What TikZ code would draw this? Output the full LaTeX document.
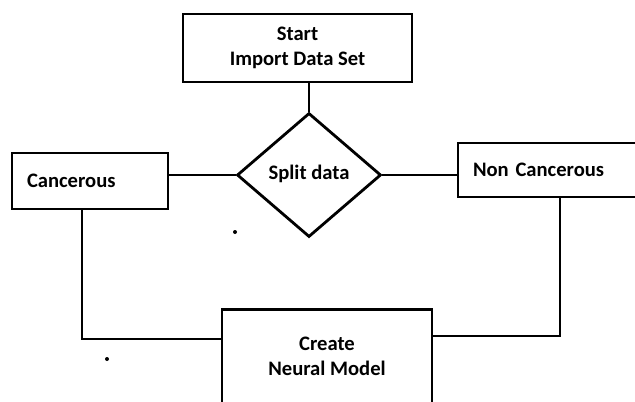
\documentclass[tikz,border=0pt]{standalone}
\usepackage{fontspec}
\setmainfont{Carlito}
\usetikzlibrary{shapes.geometric}
\tikzset{
  flow/.style={draw, line width=1.4pt, font=\bfseries\fontsize{10.3}{12.5}\selectfont},
  procbox/.style={flow, rectangle, align=center},
  sidebox/.style={flow, rectangle, align=left, inner xsep=7.5pt},
  decide/.style={flow, diamond, aspect=1.16, inner sep=0pt}
}
\begin{document}
\begin{tikzpicture}[x=0.5pt, y=-0.5pt, line width=1.4pt]
\useasboundingbox (0,0) rectangle (635,401);
\clip (0,0) rectangle (635,401);
\node[procbox, minimum width=114.5pt, minimum height=34pt] (start) at (297.5,48) {Start\\Import Data Set};
\node[decide, minimum width=72pt, minimum height=62pt] (split) at (309,175) {\raisebox{3pt}{Split data}};
\node[sidebox, text width=63pt, minimum height=28pt] (cancer) at (90,181) {Cancerous};
\node[sidebox, text width=80pt, minimum height=27pt] (noncancer) at (553,170) {Non Cancerous};
\node[procbox, minimum width=105pt, minimum height=52.5pt] (model) at (327,362) {Create\\Neural Model\\[-6.5pt]};
\coordinate (cturn) at (82,339);
\coordinate (nturn) at (560,336);
% connectors
\draw (split.north |- start.south) -- (split.north);
\draw (cancer.east |- split.west) -- (split.west);
\draw (split.east) -- (split.east -| noncancer.west);
\draw (cturn |- cancer.south) -- (cturn) -- (cturn -| model.west);
\draw (nturn |- noncancer.south) -- (nturn) -- (nturn -| model.east);
% stray dots
\fill (235,232) circle (1pt);
\fill (107,359) circle (1pt);
\end{tikzpicture}
\end{document}
